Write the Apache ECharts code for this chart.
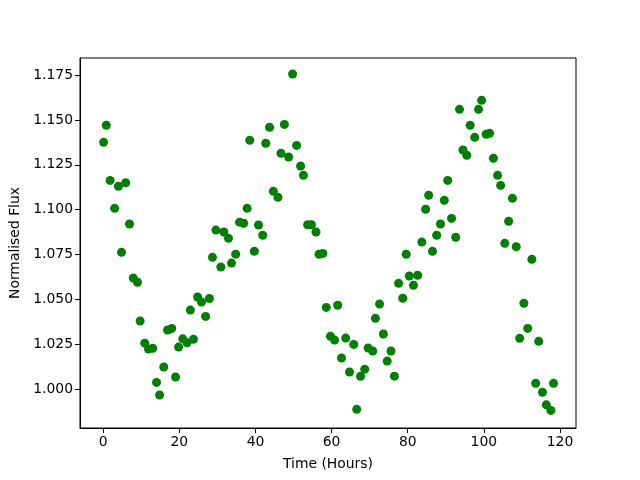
<!DOCTYPE html>
<html>
<head>
<meta charset="utf-8">
<script src="https://cdn.jsdelivr.net/npm/echarts@6/dist/echarts.min.js"></script>
<style>
  html, body { margin: 0; padding: 0; background: #fff; }
  #chart { width: 640px; height: 480px; }
</style>
</head>
<body>
<div id="chart"></div>
<script>
// time in hours
const timeHours = [
  0.1, 0.8, 1.8, 3.0, 4.0, 4.8, 5.9, 6.9, 7.9, 9.0,
  9.7, 10.9, 11.9, 13.0, 14.0, 14.8, 15.9, 16.9, 18.0, 19.0,
  19.8, 20.9, 22.0, 22.9, 23.7, 24.8, 25.8, 26.9, 27.9, 28.7,
  29.6, 30.9, 31.7, 32.9, 33.7, 34.8, 35.8, 36.9, 37.8, 38.5,
  39.7, 40.8, 41.9, 42.7, 43.7, 44.7, 45.9, 46.7, 47.6, 48.7,
  49.75, 50.8, 51.85, 52.6, 53.7, 54.7, 55.9, 56.7, 57.7, 58.6,
  59.7, 60.8, 61.6, 62.6, 63.7, 64.7, 65.8, 66.6, 67.6, 68.7,
  69.6, 70.8, 71.5, 72.6, 73.6, 74.6, 75.6, 76.5, 77.6, 78.7,
  79.6, 80.4, 81.5, 82.6, 83.7, 84.7, 85.5, 86.5, 87.6, 88.6,
  89.6, 90.5, 91.5, 92.6, 93.6, 94.5, 95.5, 96.4, 97.6, 98.6,
  99.4, 100.6, 101.5, 102.5, 103.6, 104.4, 105.5, 106.5, 107.5, 108.5,
  109.4, 110.5, 111.5, 112.6, 113.6, 114.4, 115.4, 116.4, 117.6, 118.3
];

// normalised flux
const flux = [
  1.1375, 1.147, 1.1163, 1.1007, 1.113, 1.0762, 1.115, 1.092, 1.0619, 1.0595,
  1.0379, 1.0256, 1.0223, 1.0227, 1.0037, 0.9967, 1.0123, 1.0329, 1.0338, 1.0067,
  1.0234, 1.028, 1.0258, 1.044, 1.0277, 1.0513, 1.0485, 1.0405, 1.0505, 1.0734,
  1.0886, 1.068, 1.0875, 1.084, 1.0702, 1.0752, 1.093, 1.0924, 1.1007, 1.1386,
  1.0768, 1.0914, 1.0857, 1.137, 1.1459, 1.1102, 1.1069, 1.1314, 1.1475, 1.1293,
  1.1756, 1.1358, 1.1243, 1.1191, 1.0916, 1.0916, 1.0875, 1.0751, 1.0756, 1.0455,
  1.0294, 1.0273, 1.0467, 1.0173, 1.0284, 1.0095, 1.0249, 0.9887, 1.0071, 1.0111,
  1.0229, 1.0212, 1.0394, 1.0474, 1.0307, 1.0156, 1.0212, 1.0072, 1.0589, 1.0506,
  1.0751, 1.063, 1.0578, 1.0634, 1.0819, 1.1002, 1.108, 1.0768, 1.0857, 1.092,
  1.1052, 1.1163, 1.0951, 1.0846, 1.1559, 1.1332, 1.1303, 1.147, 1.1403, 1.1559,
  1.1609, 1.142, 1.1425, 1.1286, 1.1191, 1.1135, 1.0812, 1.0935, 1.1063, 1.0793,
  1.0283, 1.0478, 1.0338, 1.0723, 1.0032, 1.0266, 0.9982, 0.9912, 0.9881, 1.0032
];

const xTicks = [0, 20, 40, 60, 80, 100, 120];
const yTicks = [1.000, 1.025, 1.050, 1.075, 1.100, 1.125, 1.150, 1.175];

const points = timeHours.map((t, i) => [t, flux[i]]);

const font = 'DejaVu Sans';
const chart = echarts.init(document.getElementById('chart'));

chart.setOption({
  animation: false,
  backgroundColor: '#fff',
  grid: {
    left: 80, right: 64, top: 58, bottom: 52,
    show: true, borderColor: '#000', borderWidth: 1, backgroundColor: 'transparent'
  },
  xAxis: {
    type: 'value',
    min: -6.1,
    max: 124.2,
    name: 'Time (Hours)',
    nameLocation: 'middle',
    nameGap: 29,
    nameTextStyle: { color: '#000', fontFamily: font, fontSize: 13.9 },
    axisLine: { show: true, onZero: false, lineStyle: { color: '#000', width: 1 } },
    axisTick: { show: true, inside: false, length: 5, lineStyle: { color: '#000' }, customValues: xTicks },
    axisLabel: { color: '#000', fontFamily: font, fontSize: 13.9, margin: 7, customValues: xTicks },
    splitLine: { show: false }
  },
  yAxis: {
    type: 'value',
    min: 0.9783,
    max: 1.1845,
    name: 'Normalised Flux',
    nameLocation: 'middle',
    nameGap: 52,
    nameTextStyle: { color: '#000', fontFamily: font, fontSize: 13.9 },
    axisLine: { show: true, onZero: false, lineStyle: { color: '#000', width: 1 } },
    axisTick: { show: true, inside: false, length: 5, lineStyle: { color: '#000' }, customValues: yTicks },
    axisLabel: {
      color: '#000', fontFamily: font, fontSize: 13.9, margin: 7,
      customValues: yTicks,
      formatter: v => v.toFixed(3)
    },
    splitLine: { show: false }
  },
  series: [{
    type: 'scatter',
    data: points,
    symbol: 'circle',
    symbolSize: 9,
    itemStyle: { color: '#008000', opacity: 1 }
  }]
});
</script>
</body>
</html>
